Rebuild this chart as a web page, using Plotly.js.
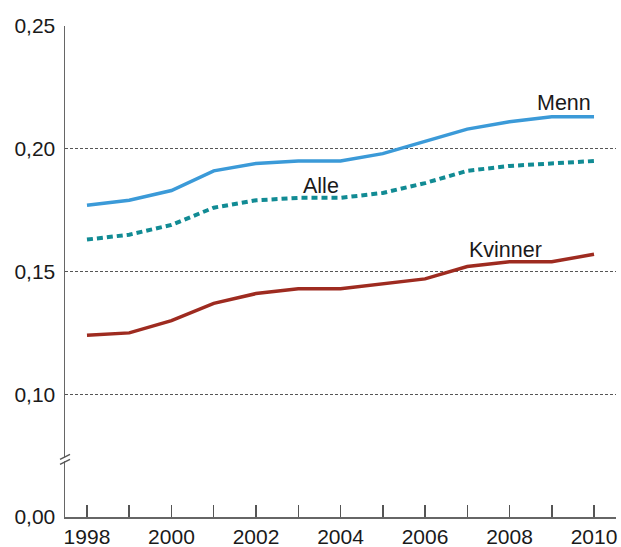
<!DOCTYPE html>
<html>
<head>
<meta charset="utf-8">
<script src="https://cdn.plot.ly/plotly-3.0.1.min.js"></script>
<style>html,body{margin:0;padding:0;background:#fff;}#chart{width:621px;height:547px;}</style>
</head>
<body>
<div id="chart"></div>
<script>
const years = [1998,1999,2000,2001,2002,2003,2004,2005,2006,2007,2008,2009,2010];
const menn = [0.177,0.179,0.183,0.191,0.194,0.195,0.195,0.198,0.203,0.208,0.211,0.213,0.213];
const alle = [0.163,0.165,0.169,0.176,0.179,0.180,0.180,0.182,0.186,0.191,0.193,0.194,0.195];
const kvinner = [0.124,0.125,0.130,0.137,0.141,0.143,0.143,0.145,0.147,0.152,0.154,0.154,0.157];
const xTickLabels = ['1998','','2000','','2002','','2004','','2006','','2008','','2010'];
const yTickVals = [0.05,0.10,0.15,0.20,0.25];
const yTickLabels = ['0,00','0,10','0,15','0,20','0,25'];
const breakAt = 0.0735;

const tickFont = {family:'Liberation Sans, Arial, sans-serif', size:21, color:'#1a1a1a'};
const labelFont = {family:'Liberation Sans, Arial, sans-serif', size:21.5, color:'#1a1a1a'};

const traces = [
  {x:years, y:menn, name:'Menn', mode:'lines', line:{color:'#3b9ad8', width:3.5}},
  {x:years, y:alle, name:'Alle', mode:'lines', line:{color:'#118b94', width:4, dash:'6px,4px'}},
  {x:years, y:kvinner, name:'Kvinner', mode:'lines', line:{color:'#9e2b20', width:3.5}}
];

const layout = {
  width:621, height:547,
  margin:{l:65, r:5, t:26, b:30},
  paper_bgcolor:'#fff', plot_bgcolor:'#fff',
  showlegend:false,
  font:tickFont,
  xaxis:{
    range:[1997.48, 2010.52], tickvals:years, ticktext:xTickLabels,
    ticks:'inside', ticklen:12, tickcolor:'#555', tickwidth:1.5,
    showgrid:false, zeroline:false, showline:true, linecolor:'#666', linewidth:1.5,
    tickfont:tickFont, ticklabelstandoff:0, fixedrange:true
  },
  yaxis:{
    range:[0.05, 0.25], tickvals:yTickVals, ticktext:yTickLabels,
    ticks:'', showgrid:true, gridcolor:'#555', gridwidth:1, griddash:'3px,2px',
    zeroline:false, showline:true, linecolor:'#666', linewidth:1.5,
    tickfont:tickFont, ticklabelstandoff:4, fixedrange:true
  },
  annotations:[
    {x:2009.3, y:0.2187, xref:'x', yref:'y', text:'Menn', showarrow:false, font:labelFont},
    {x:2003.55, y:0.1847, xref:'x', yref:'y', text:'Alle', showarrow:false, font:labelFont},
    {x:2007.9, y:0.1587, xref:'x', yref:'y', text:'Kvinner', showarrow:false, font:labelFont}
  ],
  shapes:[
    {type:'rect', xref:'paper', yref:'y', xsizemode:'pixel', ysizemode:'pixel', xanchor:0, yanchor:breakAt,
     x0:-3, x1:3, y0:-2, y1:2, fillcolor:'#fff', line:{width:0}},
    {type:'line', xref:'paper', yref:'y', xsizemode:'pixel', ysizemode:'pixel', xanchor:0, yanchor:breakAt,
     x0:-5, x1:5, y0:-5, y1:0, line:{color:'#555', width:1.3}},
    {type:'line', xref:'paper', yref:'y', xsizemode:'pixel', ysizemode:'pixel', xanchor:0, yanchor:breakAt,
     x0:-5, x1:5, y0:0, y1:5, line:{color:'#555', width:1.3}}
  ]
};

Plotly.newPlot('chart', traces, layout, {displayModeBar:false, staticPlot:true});
</script>
</body>
</html>
